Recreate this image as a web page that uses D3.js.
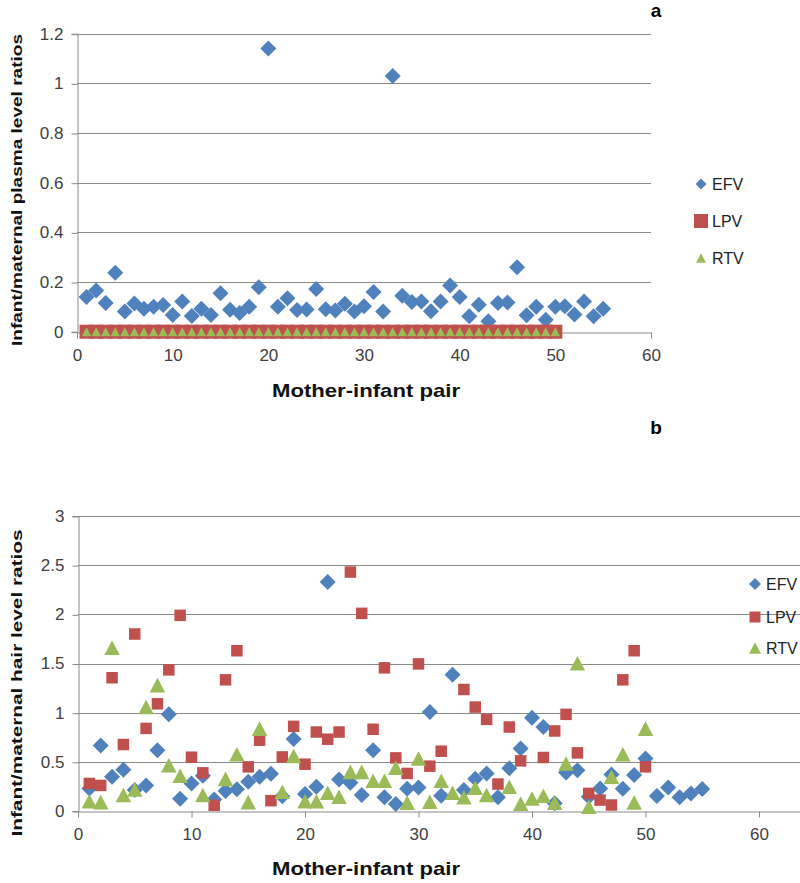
<!DOCTYPE html>
<html><head><meta charset="utf-8">
<script src="https://cdn.jsdelivr.net/npm/d3@7/dist/d3.min.js"></script>
<style>body{margin:0;background:#fff}svg{display:block}text{font-family:"Liberation Sans",Arial,sans-serif}</style>
</head><body>
<svg id="c" width="800" height="883"></svg>
<script>
// ---------- DATA ----------
const seriesNames = ["EFV","LPV","RTV"];
const colors = ["#4F81BD","#C0504D","#9BBB59"];

// Panel a: plasma ratios
const plasmaPairsEFV = [1,2,3,4,5,6,7,8,9,10,11,12,13,14,15,16,17,18,19,20,21,22,23,24,25,26,27,28,29,30,31,32,33,34,35,36,37,38,39,40,41,42,43,44,45,46,47,48,49,50,51,52,53,54,55];
const plasmaEFV = [0.14,0.166,0.116,0.237,0.081,0.114,0.092,0.1,0.108,0.067,0.122,0.063,0.092,0.067,0.155,0.088,0.075,0.1,0.179,1.14,0.1,0.135,0.087,0.089,0.172,0.09,0.085,0.113,0.081,0.102,0.16,0.081,1.03,0.145,0.12,0.122,0.082,0.122,0.186,0.14,0.062,0.109,0.042,0.116,0.118,0.26,0.066,0.1,0.048,0.1,0.102,0.069,0.122,0.062,0.092];
const plasmaPairsPI = [1,2,3,4,5,6,7,8,9,10,11,12,13,14,15,16,17,18,19,20,21,22,23,24,25,26,27,28,29,30,31,32,33,34,35,36,37,38,39,40,41,42,43,44,45,46,47,48,49,50];
const plasmaLPV = [0,0,0,0,0,0,0,0,0,0,0,0,0,0,0,0,0,0,0,0,0,0,0,0,0,0,0,0,0,0,0,0,0,0,0,0,0,0,0,0,0,0,0,0,0,0,0,0,0,0];
const plasmaRTV = [0,0,0,0,0,0,0,0,0,0,0,0,0,0,0,0,0,0,0,0,0,0,0,0,0,0,0,0,0,0,0,0,0,0,0,0,0,0,0,0,0,0,0,0,0,0,0,0,0,0];
const plasmaYTicks = [0,0.2,0.4,0.6,0.8,1,1.2];
const plasmaYLabels = ["0","0.2","0.4","0.6","0.8","1","1.2"];

// Panel b: hair ratios
const hairPairsEFV = plasmaPairsEFV;
const hairEFV = [0.23,0.666,0.348,0.42,0.213,0.26,0.618,0.983,0.125,0.28,0.358,0.118,0.203,0.22,0.297,0.348,0.378,0.15,0.733,0.172,0.246,2.33,0.321,0.287,0.162,0.618,0.139,0.071,0.226,0.24,1.006,0.155,1.385,0.213,0.327,0.382,0.139,0.435,0.636,0.949,0.854,0.078,0.392,0.415,0.145,0.23,0.372,0.226,0.365,0.534,0.152,0.24,0.139,0.179,0.223];
const hairPairsPI = plasmaPairsPI;
const hairLPV = [0.28,0.26,1.355,0.676,1.80,0.84,1.09,1.435,1.99,0.547,0.388,0.058,1.334,1.63,0.449,0.72,0.105,0.55,0.861,0.476,0.803,0.73,0.803,2.43,2.01,0.831,1.456,0.54,0.382,1.496,0.456,0.608,null,1.236,1.057,0.932,0.274,0.854,0.51,null,0.544,0.814,0.983,0.591,0.179,0.111,0.061,1.334,1.63,0.449];
const hairRTV = [0.1,0.09,1.66,0.162,0.22,1.057,1.28,0.466,0.358,null,0.162,null,0.327,0.578,0.09,0.838,null,0.196,0.56,0.10,0.10,0.186,0.145,0.398,0.398,0.307,0.307,0.439,0.085,0.534,0.094,0.307,0.186,0.139,0.236,0.162,null,0.246,0.075,0.128,0.155,0.085,0.483,1.503,0.044,null,0.348,0.578,0.088,0.838];
const hairYTicks = [0,0.5,1,1.5,2,2.5,3];
const hairYLabels = ["0","0.5","1","1.5","2","2.5","3"];
const xTicks = [0,10,20,30,40,50,60];

// ---------- DRAW ----------
const svg = d3.select("#c");
const GRID = "#8a8a8a";

function markerPath(kind, s){
  if(kind==="diamond"){ const h=s/2; return `M0,${-h}L${h},0L0,${h}L${-h},0Z`; }
  if(kind==="square"){ const h=s/2; return `M${-h},${-h}H${h}V${h}H${-h}Z`; }
  const w=s/2, h=s*0.47; return `M0,${-h}L${w},${h}L${-w},${h}Z`;
}

function panel(cfg){
  const g = svg.append("g");
  const x = d3.scaleLinear().domain(cfg.xDomain).range(cfg.xRange);
  const y = d3.scaleLinear().domain([0, cfg.yMax]).range(cfg.yRange);
  const right = cfg.gridRight;
  // gridlines
  g.selectAll("line.grid").data(cfg.yTicks.filter(v=>v>0)).enter().append("line")
    .attr("x1", x(0)).attr("x2", right).attr("y1", d=>Math.round(y(d))+0.5).attr("y2", d=>Math.round(y(d))+0.5)
    .attr("stroke", GRID).attr("stroke-width",1);
  // y axis
  const ya = g.append("g").attr("transform",`translate(${Math.round(x(0))+0.5},0)`)
    .call(d3.axisLeft(y).tickValues(cfg.yTicks).tickFormat((d,i)=>cfg.yLabels[i]).tickSizeOuter(0).tickSize(6).tickPadding(8));
  ya.select(".domain").attr("stroke",GRID);
  ya.selectAll(".tick line").attr("stroke",GRID).attr("transform","translate(0,0.5)");
  ya.selectAll(".tick text").attr("font-size",17).attr("fill","#404040").attr("font-family","Liberation Sans, Arial");
  // x axis
  const xa = g.append("g").attr("transform",`translate(0,${Math.round(y(0))+0.5})`)
    .call(d3.axisBottom(x).tickValues(xTicks).tickSizeOuter(0).tickSize(6).tickPadding(cfg.tickPad));
  xa.select(".domain").attr("stroke",GRID);
  xa.selectAll(".tick line").attr("stroke",GRID);
  xa.selectAll(".tick text").attr("font-size",17).attr("fill","#404040").attr("font-family","Liberation Sans, Arial");

  // series
  cfg.series.forEach((s,si)=>{
    const pts = s.xs.map((xv,i)=>({x:xv,y:s.ys[i]})).filter(d=>d.y!==null);
    g.append("g").selectAll("path").data(pts).enter().append("path")
      .attr("d", markerPath(s.kind, s.size))
      .attr("transform", d=>`translate(${x(d.x)},${y(d.y)})`)
      .attr("fill", colors[si]).attr("stroke", s.stroke||"none").attr("stroke-width",1);
  });

  // legend
  const lg = g.append("g");
  cfg.legend.forEach((l,i)=>{
    lg.append("path").attr("d", markerPath(l.kind, l.size))
      .attr("transform",`translate(${cfg.legendX},${cfg.legendY[i]})`).attr("fill",colors[i]);
    lg.append("text").attr("x", cfg.legendX+cfg.legendTextDx).attr("y", cfg.legendY[i]).attr("dy","0.36em")
      .attr("font-size",16).attr("fill","#222").text(seriesNames[i]);
  });

  // axis titles
  g.append("text").attr("x", cfg.xTitle[0]).attr("y", cfg.xTitle[1]).attr("text-anchor","middle")
    .attr("font-size",19).attr("font-weight","bold").attr("fill","#111")
    .attr("textLength",188).attr("lengthAdjust","spacingAndGlyphs").text("Mother-infant pair");
  g.append("text").attr("transform",`translate(${cfg.yTitle[0]},${cfg.yTitle[1]}) rotate(-90)`).attr("text-anchor","middle")
    .attr("font-size",15).attr("font-weight","bold").attr("fill","#111")
    .attr("textLength",cfg.yTitleLen).attr("lengthAdjust","spacingAndGlyphs").text(cfg.yTitleText);
  g.append("text").attr("x", cfg.letter[0]).attr("y", cfg.letter[1]).attr("text-anchor","middle")
    .attr("font-size",19).attr("font-weight","bold").attr("fill","#000").text(cfg.letterText);
}

panel({
  xDomain:[0,60], xRange:[77,651], yMax:1.2, yRange:[331.7,33.7], gridRight:651,
  yTicks:plasmaYTicks, yLabels:plasmaYLabels, tickPad:10,
  series:[
    {xs:plasmaPairsEFV, ys:plasmaEFV, kind:"diamond", size:16},
    {xs:plasmaPairsPI, ys:plasmaLPV, kind:"square", size:14},
    {xs:plasmaPairsPI, ys:plasmaRTV, kind:"triangle", size:9.5}
  ],
  legend:[{kind:"diamond",size:11},{kind:"square",size:14},{kind:"triangle",size:10}],
  legendX:701, legendY:[184,221,258], legendTextDx:11,
  xTitle:[366,397], yTitle:[22,190], yTitleLen:312, yTitleText:"Infant/maternal plasma level ratios",
  letter:[656,17], letterText:"a"
});

panel({
  xDomain:[0,70], xRange:[78,872.5], yMax:3, yRange:[811,516], gridRight:800,
  yTicks:hairYTicks, yLabels:hairYLabels, tickPad:10,
  series:[
    {xs:hairPairsEFV, ys:hairEFV, kind:"diamond", size:16},
    {xs:hairPairsPI, ys:hairLPV, kind:"square", size:11.5},
    {xs:hairPairsPI, ys:hairRTV, kind:"triangle", size:15.5}
  ],
  legend:[{kind:"diamond",size:12},{kind:"square",size:11},{kind:"triangle",size:12}],
  legendX:755, legendY:[584,617,648], legendTextDx:11,
  xTitle:[366,875], yTitle:[22,683], yTitleLen:307, yTitleText:"Infant/maternal hair level ratios",
  letter:[656,434], letterText:"b"
});
</script>
</body></html>
